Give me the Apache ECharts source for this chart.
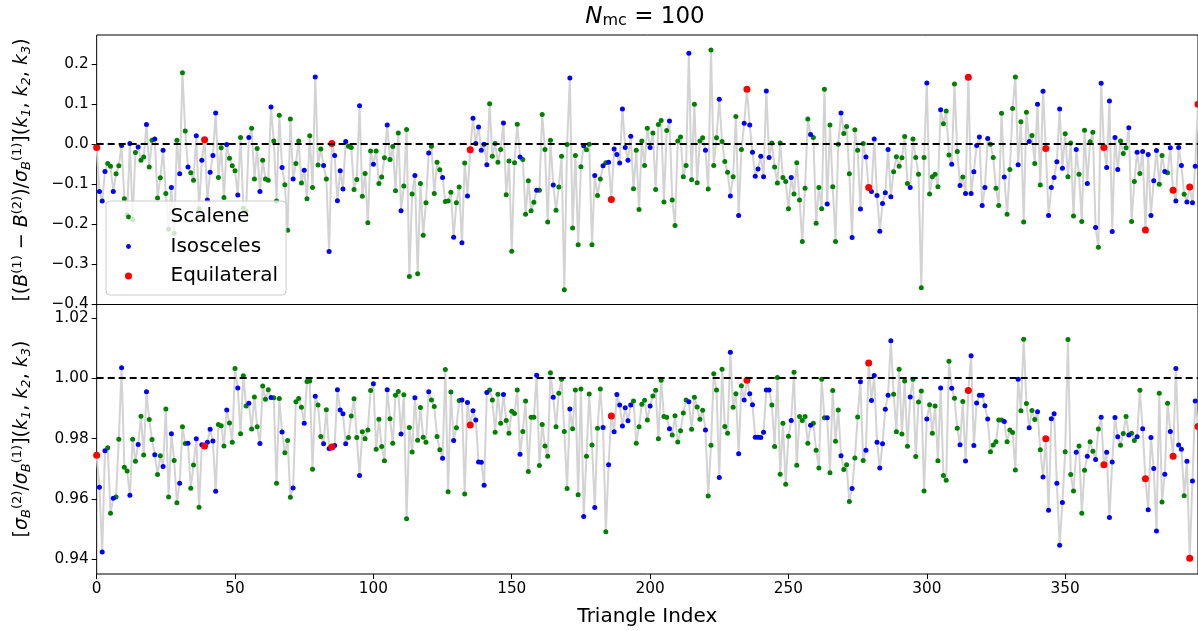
<!DOCTYPE html>
<html><head><meta charset="utf-8">
<script src="https://cdn.jsdelivr.net/npm/echarts@6/dist/echarts.min.js"></script>
<style>html,body{margin:0;padding:0;background:#fff}#c{width:1198px;height:631px}</style>
</head><body><div id="c"></div>
<script>
// Triangle type per index: E = Equilateral, I = Isosceles, S = Scalene
const triangleTypes = (
  "EIII SSI SSI SSI SSI SSI SSI SSI SSI SSI SSI SSI SIE " +
  "IIII SSSI SSSI SSSI SSSI SSSI SSSI SSSI SSSI SSSI SSI SIE " +
  "IIIII SSSSI SSSSI SSSSI SSSSI SSSSI SSSSI SSSSI SSSI SSI SIE " +
  "IIIIII SSSSSI SSSSSI SSSSSI SSSSSI SSSSSI SSSSI SSSI SSI SIE " +
  "IIIIIII SSSSSSI SSSSSSI SSSSSSI SSSSSI SSSSI SSSI SSI SIE " +
  "IIIIIIII SSSSSSSI SSSSSSI SSSSSI SSSSI SSSI SSI SIE " +
  "IIIIIIII SSSSSSI SSSSSI SSSSI SSSI SSI SIE " +
  "IIIIIII SSSSSI SSSSI SSSI SSI SIE " +
  "IIIIII SSSSI SSSI SSI SIE " +
  "IIIII SSSI SSI SIE " +
  "IIII SSI SIE " +
  "III SIE " +
  "IIE"
).replace(/\s+/g, "").split("");

// Top panel: [(B1 - B2)/sigma_B1](k1,k2,k3)
const topValues = [
-0.008,-0.118,-0.142,-0.068,-0.048,-0.055,-0.118,-0.074,-0.054,-0.003,
-0.136,-0.176,0.002,-0.188,-0.021,-0.007,-0.040,-0.032,0.049,-0.057,
0.010,0.013,-0.134,-0.084,-0.015,-0.123,-0.212,-0.108,-0.222,0.010,
-0.074,0.178,0.033,-0.057,-0.071,-0.090,0.021,-0.161,-0.040,0.011,
-0.139,-0.070,-0.028,0.078,-0.083,-0.009,-0.133,-0.001,-0.035,-0.054,
-0.066,-0.127,0.017,-0.160,-0.167,0.017,0.040,-0.087,-0.011,-0.118,
-0.040,-0.087,-0.090,0.093,0.008,-0.142,0.072,-0.058,-0.101,-0.215,
0.063,-0.087,-0.048,0.008,-0.097,-0.065,-0.136,0.021,-0.108,0.168,
-0.052,-0.012,-0.053,-0.087,-0.268,0.002,-0.028,-0.141,-0.066,-0.112,
0.007,-0.005,-0.008,-0.113,-0.088,0.096,-0.130,-0.073,-0.196,-0.017,
-0.050,-0.017,-0.098,-0.082,-0.034,0.048,-0.038,-0.006,-0.116,0.028,
-0.166,-0.104,0.037,-0.330,-0.124,-0.078,-0.323,-0.098,-0.227,-0.146,
-0.022,-0.005,-0.123,-0.045,-0.064,-0.083,-0.143,-0.142,-0.120,-0.232,
-0.146,-0.107,-0.246,-0.047,-0.129,-0.014,0.065,0.002,0.043,-0.015,
0.000,-0.051,0.101,-0.030,0.002,-0.045,-0.013,0.053,-0.126,-0.042,
-0.267,-0.046,0.050,-0.032,-0.038,-0.175,-0.091,-0.166,-0.145,-0.115,
-0.115,0.074,-0.013,-0.194,0.010,-0.102,-0.165,-0.107,-0.030,-0.363,
-0.001,0.165,-0.209,-0.028,-0.251,-0.056,-0.004,-0.014,0.000,-0.251,
-0.078,-0.128,-0.087,-0.054,-0.046,-0.045,-0.138,-0.012,-0.026,-0.047,
0.088,-0.008,-0.040,0.020,-0.111,-0.015,-0.163,0.008,-0.053,0.040,
-0.008,0.028,-0.113,0.049,0.059,-0.144,0.034,0.058,-0.139,-0.203,
0.008,0.018,-0.081,-0.053,0.227,-0.089,0.100,-0.096,0.008,0.016,
-0.015,-0.112,0.235,-0.053,0.016,0.112,0.007,-0.043,-0.070,-0.129,
-0.081,0.069,-0.178,-0.013,0.052,0.137,0.048,-0.020,-0.080,-0.062,
-0.030,-0.081,0.133,-0.033,0.003,-0.057,-0.097,0.003,-0.083,-0.093,
-0.161,-0.083,-0.124,-0.046,-0.139,-0.243,-0.110,0.063,0.024,0.017,
-0.197,-0.108,-0.161,0.137,-0.149,0.048,-0.106,-0.243,0.000,0.078,
0.027,0.044,-0.074,-0.233,0.036,-0.015,-0.162,0.002,-0.032,-0.108,
-0.118,0.013,-0.128,-0.217,-0.148,-0.121,-0.013,-0.131,-0.069,-0.031,
-0.055,-0.034,0.019,-0.098,-0.108,0.013,-0.033,-0.075,-0.358,-0.033,
0.153,-0.124,-0.081,-0.075,-0.106,0.086,0.051,0.083,-0.027,-0.050,
0.150,-0.018,-0.103,-0.082,-0.123,0.167,-0.123,-0.069,-0.003,0.018,
-0.153,-0.108,0.014,0.000,-0.033,-0.110,-0.153,0.077,-0.082,-0.175,
-0.063,0.089,0.168,-0.051,0.056,-0.194,0.080,0.007,0.022,-0.048,
0.100,-0.102,0.132,-0.011,-0.178,-0.108,-0.083,-0.044,0.088,-0.060,
0.026,-0.081,0.003,-0.179,-0.013,-0.075,-0.193,0.035,-0.098,0.006,
0.030,-0.208,-0.257,0.152,-0.008,-0.058,0.108,-0.218,0.017,-0.063,
0.008,-0.023,-0.009,0.041,-0.193,-0.093,-0.020,-0.073,-0.018,-0.214,
-0.026,-0.178,-0.091,-0.016,-0.100,-0.028,-0.068,-0.071,-0.009,-0.115,
-0.142,-0.008,-0.053,-0.125,-0.144,-0.107,-0.146,-0.055,0.100
];

// Bottom panel: [sigma_B2/sigma_B1](k1,k2,k3)
const bottomValues = [
0.9745,0.9639,0.9425,0.9760,0.9770,0.9553,0.9603,0.9607,0.9798,1.0035,
0.9705,0.9693,0.9613,0.9798,0.9725,0.9781,0.9874,0.9746,0.9955,0.9863,
0.9797,0.9747,0.9681,0.9743,0.9708,0.9898,0.9607,0.9816,0.9728,0.9588,
0.9652,0.9839,0.9784,0.9785,0.9636,0.9713,0.9800,0.9573,0.9780,0.9776,
0.9788,0.9831,0.9792,0.9626,0.9847,0.9843,0.9776,0.9895,0.9852,0.9788,
1.0032,0.9968,0.9816,1.0008,0.9908,0.9917,0.9832,0.9938,0.9839,0.9784,
0.9974,0.9930,0.9962,0.9936,0.9935,0.9652,0.9933,0.9822,0.9753,0.9794,
0.9606,0.9637,0.9922,0.9933,0.9904,0.9851,0.9989,0.9991,0.9699,0.9940,
0.9911,0.9807,0.9783,0.9896,0.9767,0.9772,0.9777,0.9962,0.9895,0.9882,
0.9783,0.9804,0.9875,0.9932,0.9804,0.9678,0.9823,0.9800,0.9829,0.9959,
0.9982,0.9765,0.9864,0.9774,0.9727,0.9962,0.9866,0.9785,0.9944,0.9956,
0.9815,0.9945,0.9535,0.9837,0.9756,0.9935,0.9795,0.9903,0.9805,0.9788,
0.9955,0.9928,0.9906,0.9807,0.9763,0.9735,1.0029,0.9624,0.9954,0.9794,
0.9836,0.9926,0.9928,0.9617,0.9920,0.9845,0.9892,0.9862,0.9723,0.9722,
0.9646,0.9953,0.9961,0.9928,0.9821,0.9947,0.9851,0.9946,0.9860,0.9818,
0.9891,0.9883,0.9961,0.9748,0.9824,0.9925,0.9691,0.9871,0.9871,1.0010,
0.9711,0.9847,0.9776,0.9742,1.0018,0.9937,0.9839,0.9950,0.9997,0.9824,
0.9635,0.9898,0.9833,0.9961,0.9614,0.9964,0.9542,0.9742,0.9948,0.9779,
0.9572,0.9834,0.9964,0.9837,0.9492,0.9714,0.9875,0.9823,0.9946,0.9911,
0.9842,0.9902,0.9859,0.9911,0.9925,0.9785,0.9839,0.9914,0.9927,0.9862,
0.9908,0.9941,0.9960,0.9800,0.9993,0.9873,0.9871,0.9833,0.9812,0.9876,
0.9789,0.9826,0.9885,0.9928,0.9922,0.9831,0.9937,0.9905,0.9864,0.9894,
0.9829,0.9610,0.9778,1.0015,0.9961,0.9671,1.0030,0.9840,0.9818,1.0086,
0.9904,0.9949,0.9750,0.9975,0.9928,0.9993,0.9949,0.9912,0.9805,0.9805,
0.9804,0.9821,0.9961,0.9961,0.9911,0.9774,1.0002,0.9682,0.9851,0.9649,
0.9808,0.9860,1.0020,0.9712,0.9873,0.9860,0.9873,0.9785,0.9844,0.9851,
0.9762,0.9703,0.9997,0.9869,0.9869,0.9687,0.9959,0.9791,0.9895,0.9743,
0.9698,0.9714,0.9592,0.9635,0.9736,0.9872,0.9988,0.9728,0.9762,1.0050,
0.9926,1.0009,0.9788,0.9703,0.9783,0.9897,0.9944,1.0124,0.9947,0.9823,
1.0030,0.9815,0.9991,0.9775,0.9938,0.9997,0.9741,0.9921,0.9958,0.9627,
0.9865,0.9912,0.9818,0.9908,0.9727,0.9968,0.9678,0.9662,1.0056,0.9967,
0.9934,0.9834,0.9780,0.9923,0.9726,0.9959,1.0074,0.9777,0.9918,0.9944,
0.9944,0.9909,0.9865,0.9757,0.9779,0.9790,0.9862,0.9862,0.9857,0.9790,
0.9829,0.9820,0.9696,0.9997,0.9892,1.0129,0.9916,0.9836,0.9893,0.9863,
0.9889,0.9763,0.9673,0.9800,0.9563,0.9866,0.9882,0.9652,0.9447,0.9589,
0.9757,1.0128,0.9681,0.9627,0.9755,0.9776,0.9553,0.9695,0.9742,0.9790,
0.9758,0.9731,0.9832,0.9871,0.9714,0.9755,0.9539,0.9723,0.9870,0.9806,
0.9778,0.9817,0.9873,0.9812,0.9818,0.9794,0.9806,0.9960,0.9833,0.9667,
0.9565,0.9804,0.9701,0.9494,0.9950,0.9590,0.9682,0.9917,0.9824,0.9742,
1.0032,0.9779,0.9765,0.9611,0.9725,0.9404,0.9660,0.9925,0.9840
];

const xTickValues = [0, 50, 100, 150, 200, 250, 300, 350];
const topTickValues = [-0.4, -0.3, -0.2, -0.1, 0.0, 0.1, 0.2];
const bottomTickValues = [0.94, 0.96, 0.98, 1.00, 1.02];
const typeNames = { S: "Scalene", I: "Isosceles", E: "Equilateral" };
const typeColors = { S: "#008000", I: "#0000ff", E: "#ff0000" };
const typeSizes = { S: 5, I: 5, E: 7 };

const FONT = "DejaVu Sans";
const X_MAX = 398;
const LEFT = 96.67;
const RIGHT = 1198 - LEFT - X_MAX * 2.773;

const chart = echarts.init(document.getElementById("c"), null, { renderer: "canvas" });

function pts(vals) { return vals.map((v, i) => [i, v]); }
function ptsOf(vals, t) { return vals.map((v, i) => [i, v]).filter(p => triangleTypes[p[0]] === t); }

function xAxisCfg(grid, showLabels) {
  return {
    type: "value", gridIndex: grid, min: 0, max: X_MAX,
    axisLine: { show: false },
    splitLine: { show: false },
    axisTick: { show: showLabels, length: 5, inside: false, customValues: xTickValues, lineStyle: { color: "#000", width: 1 } },
    axisLabel: { show: showLabels, customValues: xTickValues, color: "#000", fontFamily: FONT, fontSize: 15.3, margin: 8,
      formatter: v => String(Math.round(v)) },
    name: showLabels ? "Triangle Index" : "",
    nameLocation: "middle", nameGap: 33,
    nameTextStyle: { color: "#000", fontFamily: FONT, fontSize: 20 }
  };
}

function yAxisCfg(grid, min, max, ticks, fmt) {
  return {
    type: "value", gridIndex: grid, min: min, max: max,
    axisLine: { show: false },
    splitLine: { show: false },
    axisTick: { show: true, length: 5, inside: false, customValues: ticks, lineStyle: { color: "#000", width: 1 } },
    axisLabel: { customValues: ticks, color: "#000", fontFamily: FONT, fontSize: 15.3, margin: 8, formatter: fmt }
  };
}

const dashLine = (yv) => ({
  symbol: "none", silent: true, animation: false,
  label: { show: false },
  lineStyle: { color: "#000", width: 2, type: [7, 4] },
  data: [{ yAxis: yv }]
});

const series = [];
[[topValues, 0, 0], [bottomValues, 1, 1]].forEach(([vals, gi, ref]) => {
  series.push({
    type: "line", name: "trace" + gi, xAxisIndex: gi, yAxisIndex: gi,
    data: pts(vals), symbol: "none", showSymbol: false, silent: true, z: 1,
    lineStyle: { color: "#d3d3d3", width: 2 },
    markLine: dashLine(ref)
  });
  ["S", "I", "E"].forEach(t => {
    series.push({
      type: "scatter", name: typeNames[t], xAxisIndex: gi, yAxisIndex: gi,
      data: ptsOf(vals, t), symbol: "circle", symbolSize: typeSizes[t],
      itemStyle: { color: typeColors[t], borderWidth: 0, opacity: 1 }, z: 3 + (t === "E" ? 1 : 0)
    });
  });
});

const smallDot = "path://M0,0L0.01,0M10,10L10.01,10M8.5,5A3.5,3.5,0,1,1,1.5,5A3.5,3.5,0,1,1,8.5,5Z";

const labelRich = {
  t: { fontFamily: FONT, fontSize: 19, lineHeight: 22, verticalAlign: "middle", fill: "#000" },
  i: { fontFamily: FONT, fontStyle: "italic", fontSize: 19, lineHeight: 22, verticalAlign: "middle", fill: "#000" },
  p: { fontFamily: FONT, fontSize: 13, lineHeight: 13, verticalAlign: "top", fill: "#000" },
  b: { fontFamily: FONT, fontStyle: "italic", fontSize: 13, lineHeight: 13, verticalAlign: "bottom", fill: "#000" }
};

const option = {
  animation: false,
  backgroundColor: "#fff",
  textStyle: { fontFamily: FONT },
  grid: [
    { left: LEFT, right: RIGHT, top: 35, height: 269.5, show: true, borderColor: "#000", borderWidth: 1, backgroundColor: "transparent" },
    { left: LEFT, right: RIGHT, top: 304.5, height: 269.5, show: true, borderColor: "#000", borderWidth: 1, backgroundColor: "transparent" }
  ],
  xAxis: [xAxisCfg(0, false), xAxisCfg(1, true)],
  yAxis: [
    yAxisCfg(0, -0.4, 0.2725, topTickValues, v => (v < -1e-9 ? "\u2212" : "") + Math.abs(v).toFixed(1)),
    yAxisCfg(1, 0.9352, 1.0244, bottomTickValues, v => v.toFixed(2))
  ],
  legend: {
    orient: "vertical", left: 106, top: 201,
    padding: [6, 8, 9, 19], itemGap: 9.5,
    itemWidth: 30, itemHeight: 7,
    backgroundColor: "rgba(255,255,255,0.8)", borderColor: "#cccccc", borderWidth: 1, borderRadius: 4,
    textStyle: { color: "#000", fontFamily: FONT, fontSize: 20, lineHeight: 20, padding: [0, 0, 0, 22] },
    itemStyle: { borderWidth: 0, opacity: 1 },
    selectedMode: false,
    data: [
      { name: "Scalene", icon: smallDot },
      { name: "Isosceles", icon: smallDot },
      { name: "Equilateral", icon: "circle" }
    ],
    z: 10
  },
  graphic: [
    {
      type: "text", x: 645, y: 17, z: 10,
      style: {
        text: "{i|N}{s|mc}{t| = 100}", align: "center", verticalAlign: "middle",
        rich: {
          i: { fontFamily: FONT, fontStyle: "italic", fontSize: 23, lineHeight: 23, verticalAlign: "middle", fill: "#000" },
          s: { fontFamily: FONT, fontSize: 16, lineHeight: 16, verticalAlign: "bottom", fill: "#000" },
          t: { fontFamily: FONT, fontSize: 23, lineHeight: 23, verticalAlign: "middle", fill: "#000" }
        }
      }
    },
    {
      type: "text", x: 22, y: 170, rotation: Math.PI / 2, z: 10,
      style: {
        text: "{t|[(}{i|B}{p|(1)}{t| \u2212 }{i|B}{p|(2)}{t|)/}{i|\u03c3}{b|B}{p|(1)}{t|](}{i|k}{b|1}{t|, }{i|k}{b|2}{t|, }{i|k}{b|3}{t|)}",
        align: "center", verticalAlign: "middle",
        rich: labelRich
      }
    },
    {
      type: "text", x: 22, y: 439, rotation: Math.PI / 2, z: 10,
      style: {
        text: "{t|[}{i|\u03c3}{b|B}{p|(2)}{t|/}{i|\u03c3}{b|B}{p|(1)}{t|](}{i|k}{b|1}{t|, }{i|k}{b|2}{t|, }{i|k}{b|3}{t|)}",
        align: "center", verticalAlign: "middle",
        rich: labelRich
      }
    }
  ],
  series: series
};
chart.setOption(option);
</script>
</body></html>
